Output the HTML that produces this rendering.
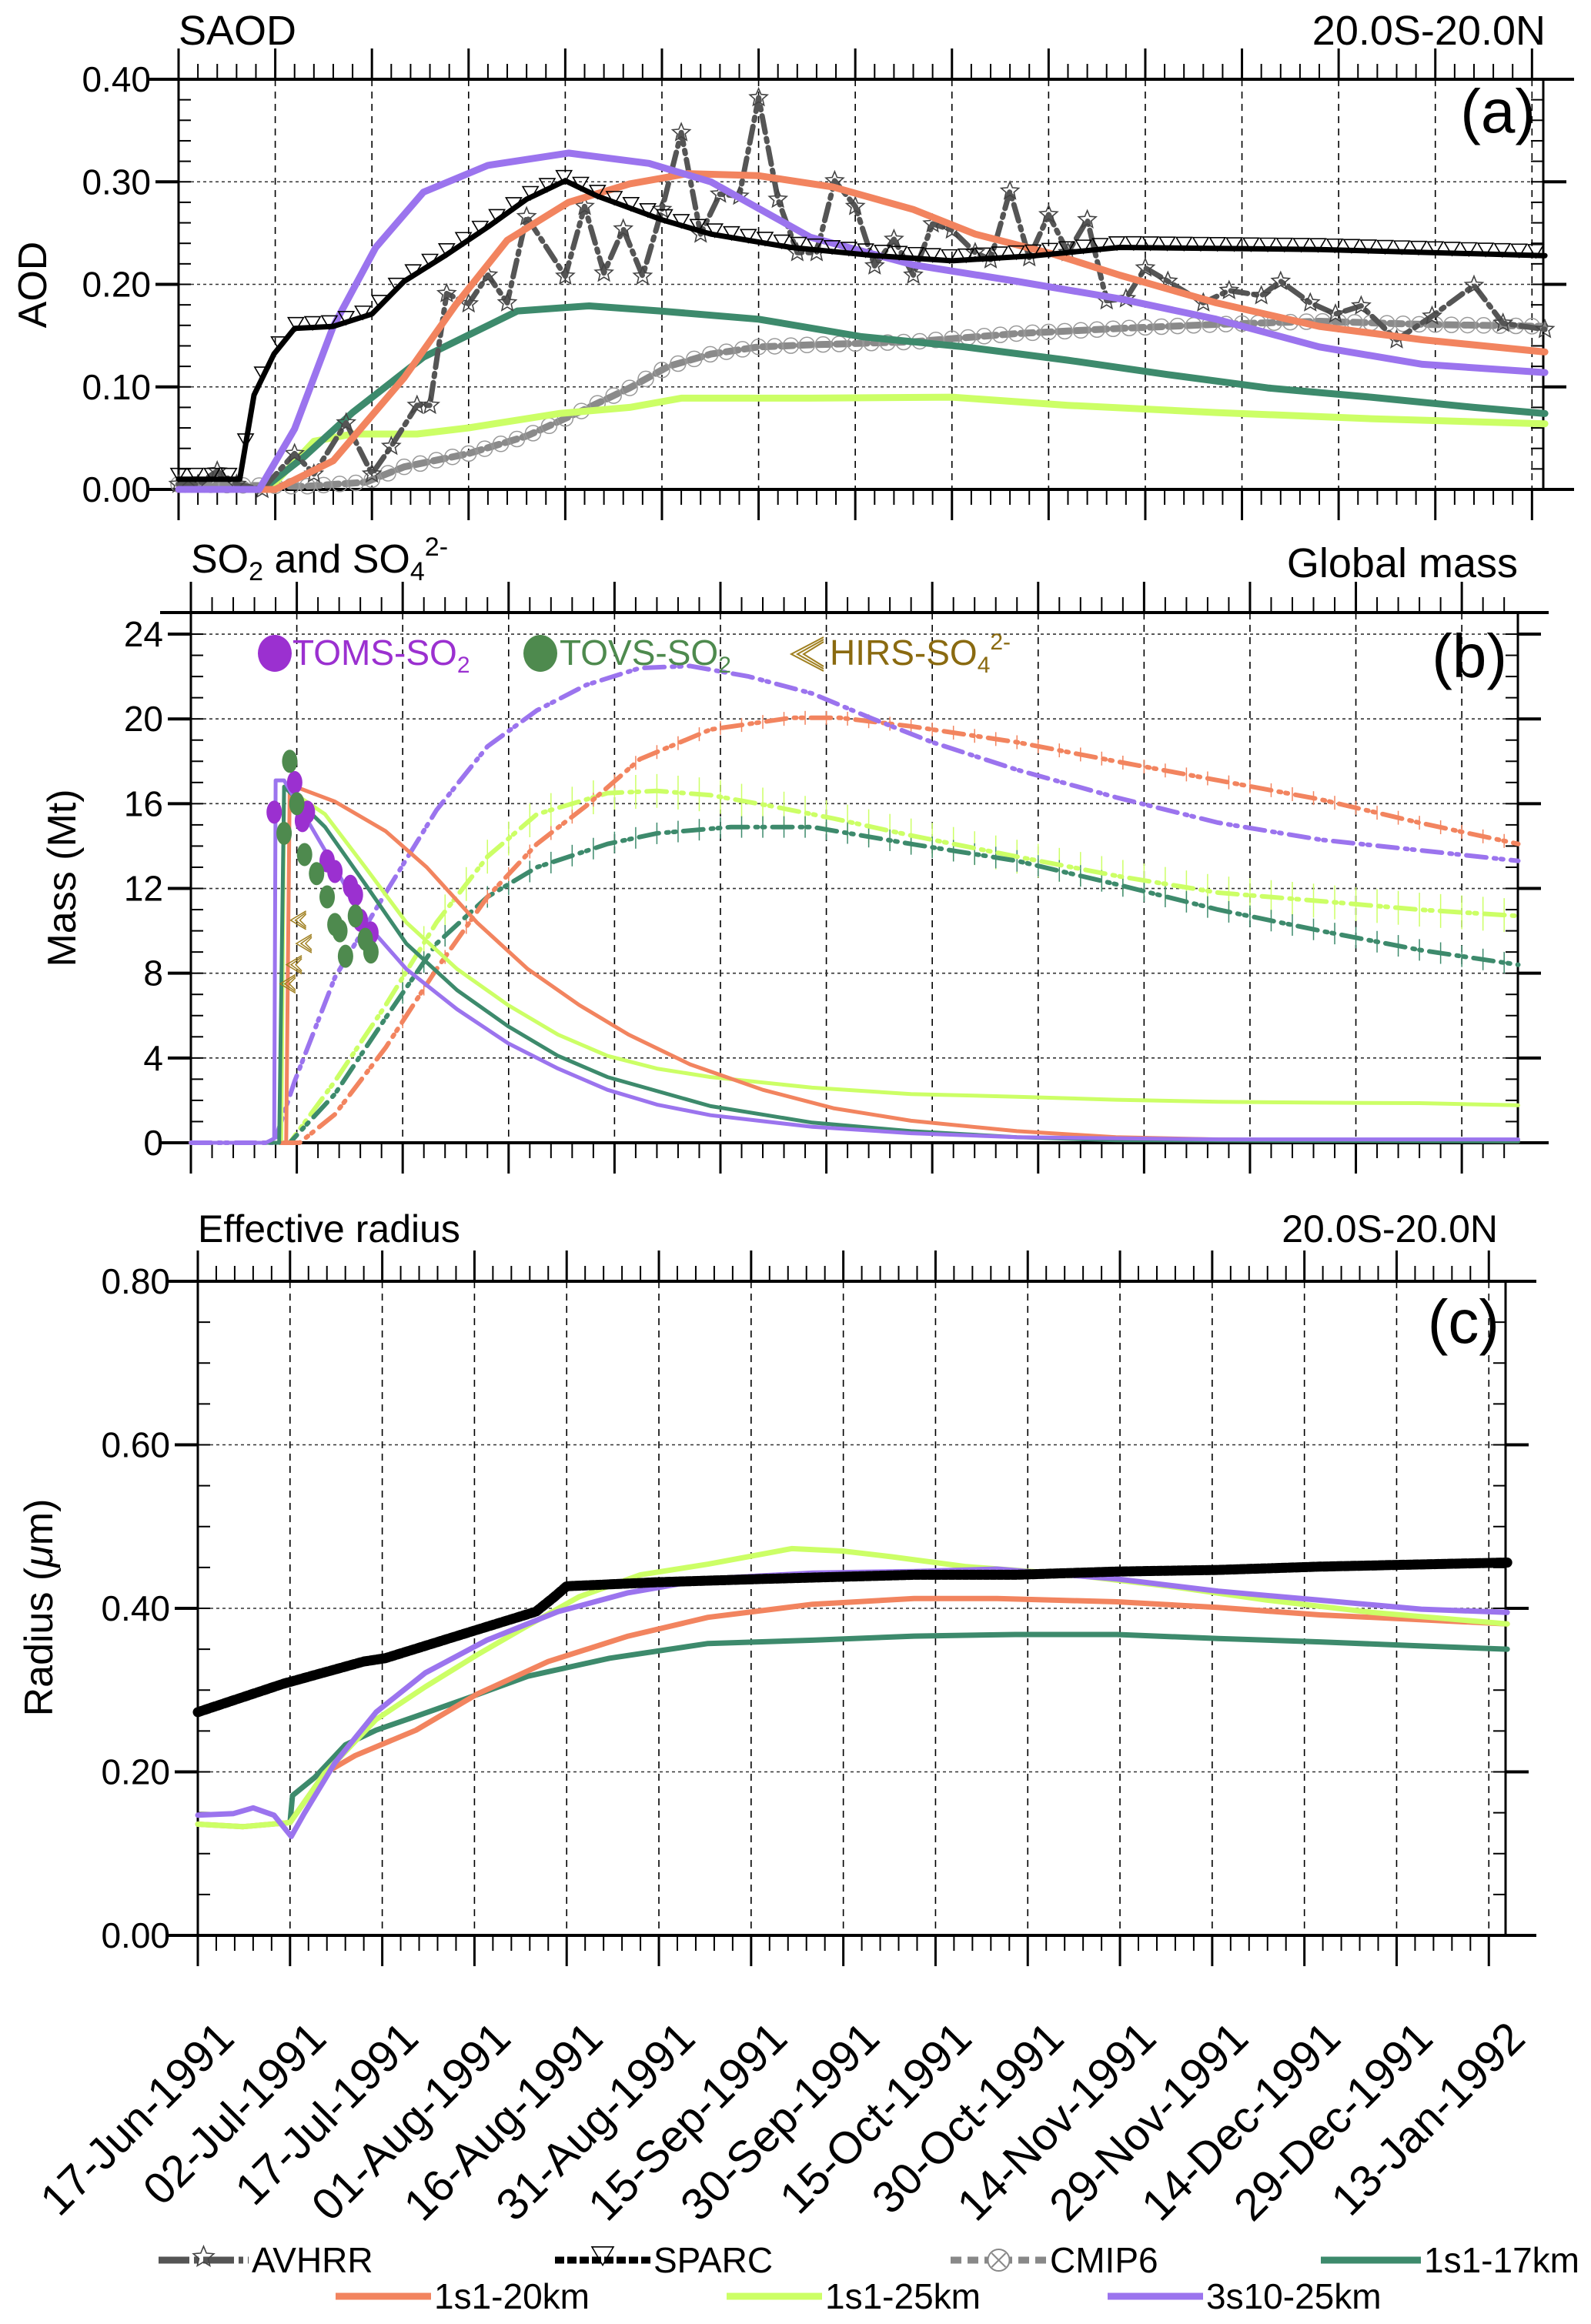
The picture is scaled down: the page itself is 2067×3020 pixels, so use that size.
<!DOCTYPE html>
<html><head><meta charset="utf-8"><style>
html,body{margin:0;padding:0;background:#fff}
svg{display:block}
text{font-family:"Liberation Sans",sans-serif;fill:#000}
</style></head><body>
<svg id="chart" xmlns="http://www.w3.org/2000/svg" width="2067" height="3020" viewBox="0 0 2067 3020"></svg>
<script>
// ---------- Panel (a) SAOD data ----------
const aAvhrrDays=[0,3,6,9,13,18,21,26,30,33,37,39,41.6,45,48,51,54,60,63,66,69,72,75,78,81,84,87,90,93,96,99,101.8,105,108,111,114,117,120,123.6,126,129,132,135,138,141,144,147,150,153.5,159,163,168,171,175.6,179.5,183.5,189,194.5,201,205.5,212];
const aAvhrrVals=[0.005,0.005,0.018,0.005,0,0.035,0.015,0.065,0.015,0.042,0.082,0.082,0.191,0.181,0.209,0.182,0.266,0.208,0.276,0.211,0.254,0.208,0.273,0.348,0.249,0.288,0.286,0.382,0.283,0.231,0.231,0.301,0.276,0.218,0.244,0.209,0.259,0.253,0.231,0.224,0.291,0.226,0.268,0.231,0.263,0.184,0.186,0.216,0.203,0.182,0.194,0.189,0.203,0.182,0.171,0.179,0.146,0.169,0.199,0.162,0.156];
const aSparcDays=[0,9.5,11.7,14.8,18,24,30,35,41.6,48,54,60,65,75,82.6,95,108,120,133,146,177,212];
const aSparcVals=[0.01,0.01,0.092,0.132,0.157,0.159,0.171,0.203,0.229,0.256,0.283,0.301,0.286,0.263,0.249,0.236,0.228,0.223,0.228,0.236,0.234,0.228];
const aCmipDays=[0,19.5,29,35,45,54,62,70,76,82.6,90,98,114,130,146,161,177,193,212];
const aCmipVals=[0.005,0.003,0.007,0.022,0.035,0.052,0.075,0.099,0.12,0.132,0.139,0.141,0.144,0.152,0.157,0.161,0.164,0.161,0.159];
const a17Days=[0,13,19.5,27,38,52.6,63.7,74.7,90,106,122,138,153.5,169,185,201,212];
const a17Vals=[0,0,0.032,0.075,0.129,0.174,0.179,0.174,0.166,0.149,0.139,0.126,0.112,0.099,0.09,0.08,0.074];
const a20Days=[0,15,24,35,43,51,60.5,70,79,90,101.5,114,123.6,136,146,161,177,193,212];
const a20Vals=[0,0,0.028,0.109,0.18,0.243,0.28,0.298,0.308,0.306,0.295,0.273,0.249,0.229,0.209,0.182,0.159,0.146,0.134];
const a25Days=[0,14,21,27,37,45,59,70,78,98,120,138,161,185,212];
const a25Vals=[0,0,0.047,0.054,0.054,0.06,0.074,0.08,0.089,0.089,0.09,0.082,0.075,0.069,0.064];
const a3sDays=[0,12.5,18,24,30.6,38,48,60.5,73,82.6,98,114,130,146,161,177,193,212];
const a3sVals=[0,0,0.059,0.159,0.236,0.29,0.316,0.328,0.318,0.30,0.246,0.219,0.203,0.186,0.166,0.139,0.122,0.114];
const aTicks=["0.00","0.10","0.20","0.30","0.40"];

// ---------- Panel (b) mass data ----------
const bSo2PurDays=[0,10.6,11.8,12,13.2,16,20.4,24.7,30.5,37.7,44.9,52,59,66,73.6,88,102,117,145.5,188];
const bSo2PurVals=[0,0,0.2,17.1,17.1,15.5,13,10.4,8.2,6.3,4.7,3.5,2.5,1.8,1.3,0.75,0.45,0.26,0.16,0.16];
const bSo217Days=[0,12.5,13.2,19,24.7,30.5,37.7,44.9,52,59,73.6,88,102,117,131,188];
const bSo217Vals=[0,0,16.8,14.9,12.2,9.4,7.2,5.5,4.1,3.1,1.73,0.95,0.55,0.26,0.12,0.06];
const bSo225Days=[0,12.8,13.2,19,24.7,30.5,37.7,44.9,52,59,66,73.6,88,102,117,131,145.5,160,174,188];
const bSo225Vals=[0,0,16.8,15.5,13,10.4,8.2,6.5,5.1,4.1,3.5,3.1,2.6,2.3,2.17,2.03,1.93,1.89,1.87,1.77];
const bSo220Days=[0,13.5,14,20.4,27.6,33.4,40.5,47.7,55,62,70.7,81,91,102,117,131,145.5,188];
const bSo220Vals=[0,0,16.9,16.1,14.7,13,10.4,8.2,6.5,5.1,3.7,2.5,1.63,1.04,0.55,0.26,0.16,0.06];
const bSo4PurDays=[0,11.8,14.7,20.4,27.6,34.8,42,49,56,63.6,70.7,79,88,96.6,105,117,131,145.5,160,174,188];
const bSo4PurVals=[0,0,2.9,7.8,11.8,15.7,18.7,20.4,21.6,22.4,22.5,22,21.2,20,18.9,17.6,16.3,15.1,14.3,13.8,13.3];
const bSo420Days=[0,15.4,20.4,27.6,34.8,42,49,56,63.6,73.6,85,92,102,117,131,145.5,160,174,188];
const bSo420Vals=[0,0,1.34,4.5,8.2,11.6,14.1,15.9,18.1,19.5,20.05,20.05,19.65,18.9,18,17.1,16.2,15.1,14.1];
const bSo425Days=[0,14,20.4,27.6,34.8,42,49,59,66,73.6,82,91,102,117,131,145.5,160,174,188];
const bSo425Vals=[0,0,2.9,6.5,10.4,13.5,15.5,16.5,16.6,16.4,15.9,15.3,14.5,13.5,12.6,11.8,11.4,11,10.7];
const bSo417Days=[0,14,20.4,27.6,34.8,42,49,59,66,76.5,88,102,117,131,145.5,160,174,188];
const bSo417Vals=[0,0,2.3,5.9,9.4,11.6,13,14.1,14.6,14.9,14.9,14.1,13.3,12.2,11,10,9.1,8.4];
const tomsDays=[11.8,14.7,16.5,15.8,19.3,20.4,22.6,23.3,24,25.5];
const tomsVals=[15.6,17.0,15.6,15.2,13.3,12.8,12.1,11.7,10.5,9.9];
const tovsDays=[14,13.2,15,16.1,17.8,19.3,20.4,21.1,23.3,24.7,21.9,25.5];
const tovsVals=[18.0,14.6,16.0,13.6,12.7,11.6,10.3,10.0,10.7,9.6,8.8,9.0];
const hirsDays=[15,15.8,14.4,13.5];
const hirsVals=[10.5,9.4,8.4,7.5];
const bTicks=["0","4","8","12","16","20","24"];

// ---------- Panel (c) radius data ----------
const cSparcDays=[0,14,27,30.5,43.8,55,58,60,75,92,116.5,133,149.5,166,182.5,213];
const cSparcVals=[0.273,0.308,0.335,0.339,0.37,0.396,0.414,0.427,0.432,0.436,0.441,0.441,0.445,0.447,0.451,0.456];
const c3sDays=[0,5.8,9,12.4,15.2,17.3,22.3,29,37,47,58.6,70,83,100,116.5,130,141,149.5,166,182.5,199,213];
const c3sVals=[0.147,0.149,0.156,0.147,0.121,0.149,0.211,0.273,0.321,0.361,0.396,0.419,0.436,0.443,0.445,0.448,0.441,0.436,0.421,0.41,0.399,0.395];
const c25Days=[0,7.4,15,20.6,29,37,45.4,53.7,62,72,83,96.6,105,113,125,141,158,174,191,213];
const c25Vals=[0.136,0.133,0.138,0.198,0.264,0.304,0.343,0.379,0.414,0.441,0.454,0.473,0.47,0.463,0.451,0.442,0.427,0.41,0.395,0.381];
const c20Days=[0,7.4,15,20.6,25.6,35.5,45.4,57,70,83,100,116.5,130,149.5,166,182.5,213];
const c20Vals=[0.136,0.133,0.138,0.198,0.22,0.251,0.295,0.335,0.366,0.389,0.405,0.412,0.412,0.408,0.401,0.392,0.381];
const c17Days=[15,15.4,19,24,29,35.5,43.8,53.7,67,83,100,116.5,133,149.5,166,182.5,199,213];
const c17Vals=[0.138,0.171,0.193,0.233,0.251,0.268,0.29,0.317,0.339,0.357,0.361,0.366,0.368,0.368,0.363,0.359,0.354,0.35];
const cTicks=["0.00","0.20","0.40","0.60","0.80"];
const dateLabels=["17-Jun-1991","02-Jul-1991","17-Jul-1991","01-Aug-1991","16-Aug-1991","31-Aug-1991","15-Sep-1991","30-Sep-1991","15-Oct-1991","30-Oct-1991","14-Nov-1991","29-Nov-1991","14-Dec-1991","29-Dec-1991","13-Jan-1992"];

const C={avhrr:"#555555",sparc:"#000000",cmip:"#8a8a8a",k17:"#3d8a6c",k20:"#f2845f",k25:"#ccff66",s3:"#9b74ee"};
const svg=document.getElementById('chart');
const NS="http://www.w3.org/2000/svg";
function mk(tag,attrs,parent){const e=document.createElementNS(NS,tag);for(const k in attrs)e.setAttribute(k,attrs[k]);(parent||svg).appendChild(e);return e;}
function txt(s,x,y,size,anchor,parent,extra){const t=mk('text',Object.assign({x:x,y:y,'font-size':size,'text-anchor':anchor||'start'},extra||{}),parent);t.textContent=s;return t;}

const P={
 a:{l:232,r:2005,t:103,b:636,x0:232,dx:8.373,ymin:0,ymax:0.40},
 b:{l:248,r:1972,t:796,b:1485,x0:248,dx:9.173,ymin:0,ymax:25.0},
 c:{l:257,r:1956,t:1665,b:2515,x0:257,dx:7.987,ymin:0,ymax:0.80}
};
P.b.ymax=(1485-796)/27.54;
function X(p,d){return p.x0+d*p.dx;}
function Y(p,v){return p.b-(v-p.ymin)/(p.ymax-p.ymin)*(p.b-p.t);}
function pathD(p,days,vals){return days.map((d,i)=>(i?'L':'M')+X(p,d).toFixed(1)+','+Y(p,vals[i]).toFixed(1)).join(' ');}
function interp(days,vals,d){for(let i=1;i<days.length;i++){if(d<=days[i]){const f=(d-days[i-1])/(days[i]-days[i-1]||1);return vals[i-1]+f*(vals[i]-vals[i-1]);}}return vals[vals.length-1];}

function frame(p,name,yticks,ymaj,yminor,lastDay){
 const g=mk('g',{},svg);
 
 
 for(let d=15;d<=lastDay;d+=15){const x=X(p,d);if(x<p.r-2)mk('line',{x1:x,y1:p.t,x2:x,y2:p.b,stroke:'#000','stroke-width':1.6,'stroke-dasharray':'9,7'},g);}
 yticks.forEach((s,i)=>{const v=i*ymaj;const y=Y(p,v);
   if(i>0&&v<p.ymax-1e-6)mk('line',{x1:p.l,y1:y,x2:p.r,y2:y,stroke:'#333','stroke-width':1.6,'stroke-dasharray':'4,4'},g);
   mk('line',{x1:p.l-30,y1:y,x2:p.l,y2:y,stroke:'#000','stroke-width':4},g);
   mk('line',{x1:p.r,y1:y,x2:p.r+30,y2:y,stroke:'#000','stroke-width':4},g);
   const t=txt(s,p.l-36,y+16,46,'end',g);
   
   
 });
 for(let v=0;v<=p.ymax+1e-9;v+=yminor){const y=Y(p,v);
   mk('line',{x1:p.l,y1:y,x2:p.l+16,y2:y,stroke:'#000','stroke-width':2},g);
   mk('line',{x1:p.r-16,y1:y,x2:p.r,y2:y,stroke:'#000','stroke-width':2},g);}
 for(let d=0;d<=lastDay+0.01;d+=3){const x=X(p,d);if(x>p.r+1)break;const maj=(Math.round(d)%15===0);
   mk('line',{x1:x,y1:p.t,x2:x,y2:p.t-(maj?40:20),stroke:'#000','stroke-width':maj?3:2},g);
   mk('line',{x1:x,y1:p.b,x2:x,y2:p.b+(maj?40:20),stroke:'#000','stroke-width':maj?3:2},g);}
 mk('rect',{x:p.l,y:p.t,width:p.r-p.l,height:p.b-p.t,fill:'none',stroke:'#000','stroke-width':3},g);
 mk('line',{x1:p.l-40,y1:p.t,x2:p.r+40,y2:p.t,stroke:'#000','stroke-width':4},g);
 mk('line',{x1:p.l-40,y1:p.b,x2:p.r+40,y2:p.b,stroke:'#000','stroke-width':4},g);
}
function line(p,days,vals,color,w,name,dash,parent){
 const e=mk('path',{d:pathD(p,days,vals),fill:'none',stroke:color,'stroke-width':w,'stroke-linejoin':'round','stroke-linecap':'round'},parent||svg);
 if(dash)e.setAttribute('stroke-dasharray',dash);
 
 
 return e;
}
function star(cx,cy,r,g){let pts=[];for(let i=0;i<10;i++){const a=-Math.PI/2+i*Math.PI/5;const rr=i%2?r*0.45:r;pts.push((cx+rr*Math.cos(a)).toFixed(1)+','+(cy+rr*Math.sin(a)).toFixed(1));}
 return mk('polygon',{points:pts.join(' '),fill:'none',stroke:'#444','stroke-width':1.6},g);}
function tri(cx,cy,r,g){return mk('polygon',{points:`${cx-r},${cy-r*0.8} ${cx+r},${cy-r*0.8} ${cx},${cy+r*0.9}`,fill:'#fff','fill-opacity':0,stroke:'#000','stroke-width':1.6},g);}

// ---------- Panel a ----------
frame(P.a,'panel-a',aTicks,0.1,0.02,212);
txt('SAOD',232,58,54,'start');
txt('20.0S-20.0N',2008,58,54,'end');
txt('(a)',1995,172,80,'end');
{const t=txt('AOD',60,370,52,'middle',svg,{transform:'rotate(-90 60 370)'});}
{const g=mk('g',{});
 line(P.a,aCmipDays,aCmipVals,C.cmip,9,'cmip6-line','16,8',g);
 for(let d=0;d<=212;d+=2.5){mk('circle',{cx:X(P.a,d),cy:Y(P.a,interp(aCmipDays,aCmipVals,d)),r:10,fill:'none',stroke:'#999','stroke-width':1.5},g);}}
line(P.a,a25Days,a25Vals,C.k25,9,'s1s1-25km-aod');
line(P.a,a17Days,a17Vals,C.k17,9,'s1s1-17km-aod');
{const g=mk('g',{});
 line(P.a,aAvhrrDays,aAvhrrVals,C.avhrr,7,'avhrr-line','22,8,4,8',g);
 aAvhrrDays.forEach((d,i)=>star(X(P.a,d),Y(P.a,aAvhrrVals[i]),12,g));}
line(P.a,a20Days,a20Vals,C.k20,9,'s1s1-20km-aod');
line(P.a,a3sDays,a3sVals,C.s3,9,'s3s10-25km-aod');
{const g=mk('g',{});
 line(P.a,aSparcDays,aSparcVals,C.sparc,7,'sparc-line',null,g);
 for(let d=0;d<=212;d+=2.6){tri(X(P.a,d),Y(P.a,interp(aSparcDays,aSparcVals,d))-6,10,g);}}

// ---------- Panel b ----------
frame(P.b,'panel-b',bTicks,4,1,188);
{const t=txt('',248,744,52,'start');
 t.innerHTML='SO<tspan font-size="34" dy="10">2</tspan><tspan dy="-10"> and SO</tspan><tspan font-size="34" dy="10">4</tspan><tspan font-size="34" dy="-32">2-</tspan>';}
txt('Global mass',1972,750,54,'end');
txt('(b)',1958,880,80,'end');
{const t=txt('Mass (Mt)',98,1141,52,'middle',svg,{transform:'rotate(-90 98 1141)'});}
function errbars(days,vals,color,name,h){const g=mk('g',{});
 for(let d=30;d<=188;d+=3){const x=X(P.b,d),y=Y(P.b,interp(days,vals,d));mk('line',{x1:x,y1:y-h,x2:x,y2:y+h,stroke:color,'stroke-width':1.5},g);}}
errbars(bSo425Days,bSo425Vals,C.k25,'s1s1-25km-sulfate-errorbars',22);
errbars(bSo417Days,bSo417Vals,C.k17,'s1s1-17km-sulfate-errorbars',14);
errbars(bSo420Days,bSo420Vals,C.k20,'s1s1-20km-sulfate-errorbars',9);
line(P.b,bSo425Days,bSo425Vals,C.k25,6,'s1s1-25km-sulfate','26,10,3,6,3,10');
line(P.b,bSo417Days,bSo417Vals,C.k17,6,'s1s1-17km-sulfate','26,10,3,6,3,10');
line(P.b,bSo420Days,bSo420Vals,C.k20,6,'s1s1-20km-sulfate','26,10,3,6,3,10');
line(P.b,bSo4PurDays,bSo4PurVals,C.s3,6,'s3s10-25km-sulfate','26,10,3,6,3,10');
line(P.b,bSo225Days,bSo225Vals,C.k25,5,'s1s1-25km-so2');
line(P.b,bSo220Days,bSo220Vals,C.k20,5,'s1s1-20km-so2');
line(P.b,bSo217Days,bSo217Vals,C.k17,5,'s1s1-17km-so2');
line(P.b,bSo2PurDays,bSo2PurVals,C.s3,5,'s3s10-25km-so2');
{const g=mk('g',{});
 tomsDays.forEach((d,i)=>mk('ellipse',{cx:X(P.b,d),cy:Y(P.b,tomsVals[i]),rx:10,ry:15,fill:'#9b30d0'},g));}
{const g=mk('g',{});
 tovsDays.forEach((d,i)=>mk('ellipse',{cx:X(P.b,d),cy:Y(P.b,tovsVals[i]),rx:10,ry:15,fill:'#4e8a4e'},g));}
{const g=mk('g',{});
 hirsDays.forEach((d,i)=>{const x=X(P.b,d),y=Y(P.b,hirsVals[i]);for(let k=0;k<3;k++)mk('polyline',{points:`${x+12},${y-12+k*2} ${x-8+k*6},${y} ${x+12},${y+12-k*2}`,fill:'none',stroke:'#a08020','stroke-width':1.5},g);});}
{const g=mk('g',{});
 mk('ellipse',{cx:357,cy:849,rx:22,ry:24,fill:'#9b30d0'},g);
 const t1=txt('',380,864,46,'start',g);t1.innerHTML='TOMS-SO<tspan font-size="30" dy="10">2</tspan>';t1.style.fill='#9b30d0';
 mk('ellipse',{cx:702,cy:849,rx:22,ry:24,fill:'#4e8a4e'},g);
 const t2=txt('',727,864,46,'start',g);t2.innerHTML='TOVS-SO<tspan font-size="30" dy="10">2</tspan>';t2.style.fill='#4e8a4e';
 for(let k=0;k<3;k++)mk('polyline',{points:`${1070},${828+k*3} ${1028+k*8},${850} ${1070},${872-k*3}`,fill:'none',stroke:'#a08020','stroke-width':2},g);
 const t3=txt('',1078,864,46,'start',g);t3.innerHTML='HIRS-SO<tspan font-size="30" dy="10">4</tspan><tspan font-size="30" dy="-30">2-</tspan>';t3.style.fill='#8a6a10';}

// ---------- Panel c ----------
frame(P.c,'panel-c',cTicks,0.2,0.05,213);
txt('Effective radius',257,1614,50,'start');
txt('20.0S-20.0N',1946,1614,50,'end');
txt('(c)',1948,1745,80,'end');
{const t=txt('',68,2089,52,'middle',svg,{transform:'rotate(-90 68 2089)'});t.innerHTML='Radius (<tspan font-style="italic">μ</tspan>m)';}
line(P.c,c17Days,c17Vals,C.k17,7,'s1s1-17km-radius');
line(P.c,c20Days,c20Vals,C.k20,7,'s1s1-20km-radius');
line(P.c,c25Days,c25Vals,C.k25,7,'s1s1-25km-radius');
line(P.c,c3sDays,c3sVals,C.s3,7,'s3s10-25km-radius');
line(P.c,cSparcDays,cSparcVals,C.sparc,13,'sparc-radius','6,3');
dateLabels.forEach((s,i)=>{const x=X(P.c,i*15)+50,y=2652;
 const t=txt(s,x,y,58,'end',svg,{transform:`rotate(-45 ${x} ${y})`});
 
 });

// ---------- Legend ----------
{const g=mk('g',{});
 function entry(x1,x2,y,color,w,dash,label,marker){
   const e=mk('g',{},g);
   
   
   const l=mk('line',{x1:x1,y1:y,x2:x2,y2:y,stroke:color,'stroke-width':w},e);if(dash)l.setAttribute('stroke-dasharray',dash);
   if(marker==='star')star((x1+x2)/2,y-4,14,e);
   if(marker==='tri')tri((x1+x2)/2,y-6,14,e);
   if(marker==='circ'){mk('circle',{cx:(x1+x2)/2,cy:y,r:14,fill:'#fff',stroke:'#888','stroke-width':2},e);mk('path',{d:`M${(x1+x2)/2-9},${y-9}L${(x1+x2)/2+9},${y+9}M${(x1+x2)/2+9},${y-9}L${(x1+x2)/2-9},${y+9}`,stroke:'#888','stroke-width':2},e);}
   txt(label,x2+4,y+16,46,'start',e);}
 entry(206,323,2937,'#555',9,'40,6,6,6','AVHRR','star');
 entry(721,845,2937,'#000',9,'12,4','SPARC','tri');
 entry(1235,1360,2937,'#888',9,'14,8','CMIP6','circ');
 entry(1716,1846,2937,C.k17,9,null,'1s1-17km');
 entry(436,560,2984,C.k20,9,null,'1s1-20km');
 entry(944,1068,2984,C.k25,9,null,'1s1-25km');
 entry(1439,1563,2984,C.s3,9,null,'3s10-25km');}
</script>
</body></html>
